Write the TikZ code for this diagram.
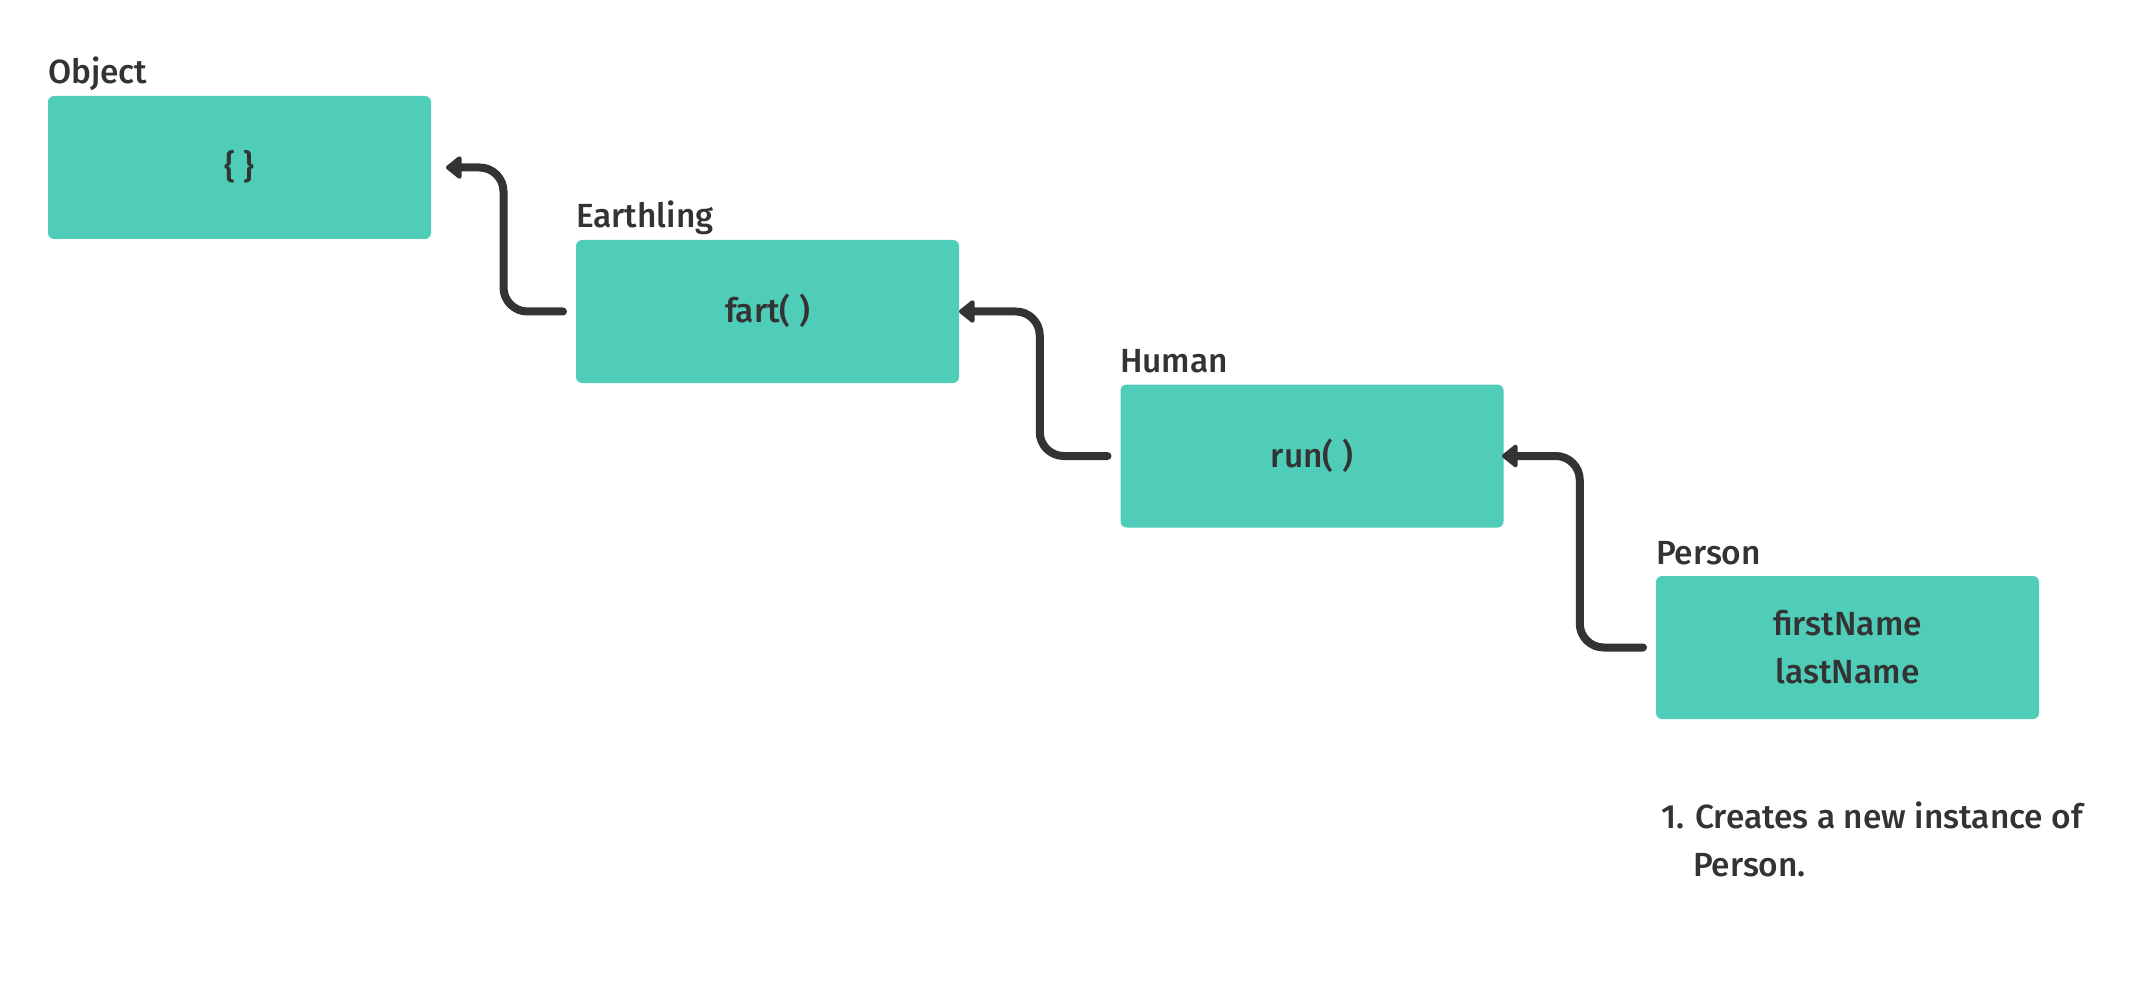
\documentclass[tikz,border=0pt]{standalone}
\usepackage{fontspec}
\setmainfont{Fira Sans Medium}
\usetikzlibrary{arrows.meta,calc}
\definecolor{teal}{HTML}{4FCDB9}
\definecolor{ink}{HTML}{333333}
\tikzset{
  cls/.style={rectangle, fill=teal, rounded corners=6pt, minimum width=383pt, minimum height=143pt, inner sep=0pt, outer sep=0pt},
  lbl/.style={inner sep=0pt, outer sep=0pt, text=ink, font=\fontsize{33.5}{40}\selectfont, anchor=base west},
  btxt/.style={inner sep=0pt, outer sep=0pt, text=ink, font=\fontsize{33.5}{40}\selectfont, anchor=base},
  note/.style={inner sep=0pt, outer sep=0pt, text=ink, font=\fontsize{33.5}{40}\selectfont, anchor=base west},
  conn/.style={draw=ink, line width=8pt, line cap=round, rounded corners=24pt, -{Triangle[length=17pt,width=26pt,round]}},
}
\begin{document}
\begin{tikzpicture}[x=1pt,y=-1pt]
\useasboundingbox[fill=white] (0,0) rectangle (2150,984);
% boxes
\node[cls] (O) at (239.5,167.5) {};
\node[cls] (E) at (767.5,311.5) {};
\node[cls] (H) at (1312,456) {};
\node[cls] (P) at (1847.5,647.5) {};
% titles
\node[lbl] (Olbl) at (48,84) {Object};
\node[lbl] (Elbl) at (576,228) {Earthling};
\node[lbl] (Hlbl) at (1120,372) {Human};
\node[lbl] (Plbl) at (1656,564) {Person};
% contents
\node[btxt] (Otxt) at ([yshift=-11.5pt]O.center) {\{ \}};
\node[btxt] (Etxt) at ([yshift=-11.5pt]E.center) {fart( )};
\node[btxt] (Htxt) at ([yshift=-11.5pt]H.center) {run( )};
\node[btxt] (Ptxt1) at ([yshift=12pt]P.center) {firstName};
\node[btxt] (Ptxt2) at ([yshift=-35.5pt]P.center) {lastName};
% note
\node[note] (n1) at (1661,828) {1. Creates a new instance of};
\node[note] (n2) at (1693,876.5) {Person.};
% connectors
\coordinate (s1) at ([xshift=-13pt]E.west);
\coordinate (t1) at ([xshift=15pt]O.east);
\coordinate (m1) at ($(O.east)!0.5!(E.west)$);
\draw[conn] (s1) -- (s1 -| m1) -- (m1 |- t1) -- (t1);
\coordinate (s2) at ([xshift=-13pt]H.west);
\coordinate (t2) at (E.east);
\coordinate (m2) at ($(E.east)!0.5!(H.west)$);
\draw[conn] (s2) -- (s2 -| m2) -- (m2 |- t2) -- (t2);
\coordinate (s3) at ([xshift=-13pt]P.west);
\coordinate (t3) at ([xshift=-1.5pt]H.east);
\coordinate (m3) at ($(H.east)!0.5!(P.west)$);
\draw[conn] (s3) -- (s3 -| m3) -- (m3 |- t3) -- (t3);
\end{tikzpicture}
\end{document}
